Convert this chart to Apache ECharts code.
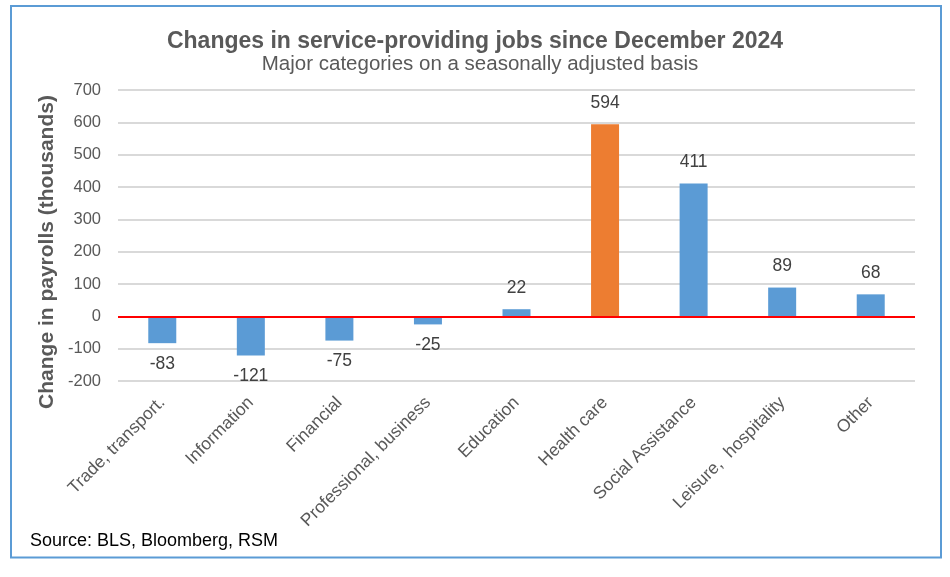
<!DOCTYPE html>
<html>
<head>
<meta charset="utf-8">
<script src="https://cdn.jsdelivr.net/npm/echarts@6/dist/echarts.min.js"></script>
<style>
  html, body { margin: 0; padding: 0; background: #fff; }
  #chart { width: 950px; height: 577px; }
</style>
</head>
<body>
<div id="chart"></div>
<script>
    var categories = ['Trade, transport.', 'Information', 'Financial', 'Professional, business',
        'Education', 'Health care', 'Social Assistance', 'Leisure,  hospitality', 'Other'];
    var values = [-83, -121, -75, -25, 22, 594, 411, 89, 68];
    var highlight = 'Health care';

    var BLUE = '#5b9bd5', ORANGE = '#ed7d31';
    var FONT = '"Liberation Sans", Arial, sans-serif';

    var chart = echarts.init(document.getElementById('chart'));

    chart.setOption({
        backgroundColor: '#fff',
        animation: false,
        title: [{
            text: 'Changes in service-providing jobs since December 2024',
            left: 'center', top: 30, padding: 0,
            textStyle: { fontFamily: FONT, fontSize: 23, fontWeight: 'bold', color: '#595959' }
        }, {
            text: 'Major categories on a seasonally adjusted basis',
            left: 480, top: 54, padding: 0,
            textAlign: 'center',
            textStyle: { fontFamily: FONT, fontSize: 20.5, fontWeight: 'normal', color: '#595959' }
        }, {
            text: 'Source: BLS, Bloomberg, RSM',
            left: 30, top: 532, padding: 0,
            textStyle: { fontFamily: FONT, fontSize: 18, fontWeight: 'normal', color: '#000' }
        }],
        graphic: [{
            type: 'rect',
            shape: { x: 11, y: 6, width: 930, height: 551.5 },
            style: { fill: 'none', stroke: '#5b9bd5', lineWidth: 2 },
            silent: true
        }, {
            // y axis title, sits lower than the plot centre in the original
            type: 'text',
            x: 47, y: 252,
            rotation: Math.PI / 2,
            style: {
                text: 'Change in payrolls (thousands)',
                fontFamily: FONT, fontSize: 21, fontWeight: 'bold', fill: '#595959',
                align: 'center', verticalAlign: 'middle'
            },
            silent: true
        }],
        grid: { left: 118, right: 35, top: 90, bottom: 196 },
        xAxis: {
            type: 'category',
            data: categories,
            axisLine: { show: false, onZero: false },
            axisTick: { show: false },
            axisLabel: {
                interval: 0, rotate: 45, margin: 19,
                fontFamily: FONT, fontSize: 17.5, color: '#595959'
            }
        },
        yAxis: {
            type: 'value',
            min: -200, max: 700, interval: 100,
            axisLine: { show: false },
            axisTick: { show: false },
            axisLabel: { fontFamily: FONT, fontSize: 16.5, color: '#595959', margin: 17 },
            splitLine: { lineStyle: { color: '#d9d9d9', width: 2 } }
        },
        series: [{
            type: 'bar',
            barWidth: 28,
            data: values.map(function (v, i) {
                return {
                    value: v,
                    itemStyle: { color: categories[i] === highlight ? ORANGE : BLUE },
                    label: { position: v < 0 ? 'bottom' : 'top' }
                };
            }),
            label: {
                show: true, distance: 12,
                fontFamily: FONT, fontSize: 17.5, color: '#404040'
            },
            markLine: {
                silent: true,
                symbol: 'none',
                label: { show: false },
                lineStyle: { color: '#ff0000', width: 2, type: 'solid' },
                data: [{ yAxis: 0 }]
            }
        }]
    });
</script>
</body>
</html>
